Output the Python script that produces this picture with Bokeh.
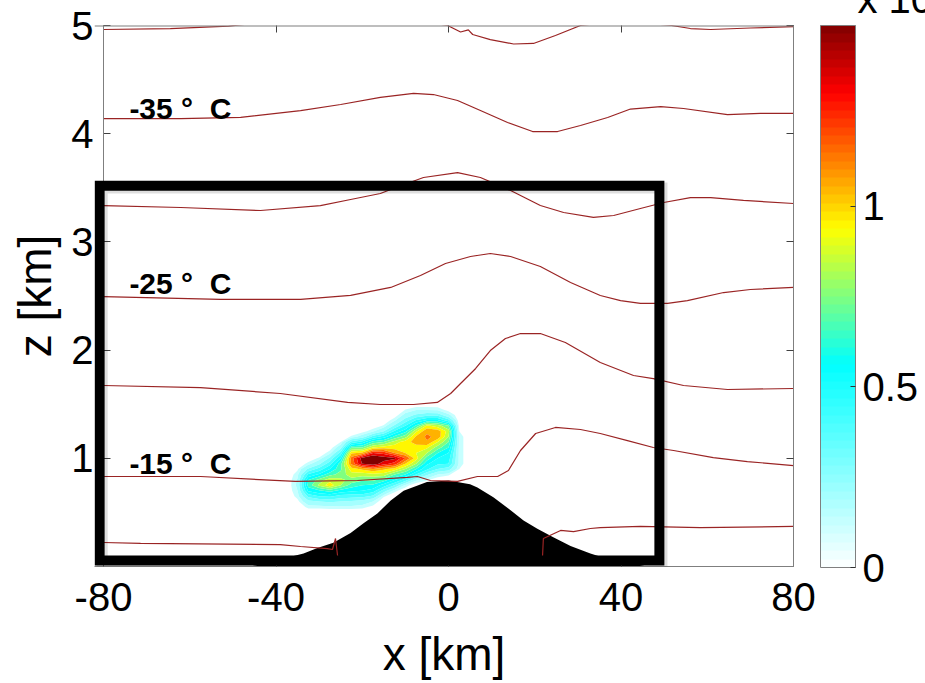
import numpy as np
from bokeh.plotting import figure
from bokeh.models import (Range1d, LinearAxis, FixedTicker, ColorBar, LinearColorMapper,
                          BoxAnnotation, Span, CustomJSTickFormatter)
from bokeh.core.properties import value
from bokeh.embed import file_html
from bokeh.resources import INLINE

# ---------------- data ----------------
x_min, x_max = -80, 80
z_min, z_max = 0, 5
x_ticks = [-80, -40, 0, 40, 80]
z_ticks = [1, 2, 3, 4, 5]
cbar_ticks = [0, 0.5, 1]
cbar_low, cbar_high = 0.0, 1.5
cbar_exponent_text = "x 10"

# terrain profile (km, km)
terrain_x = [-46, -40, -36.6, -33.6, -30.4, -26.7, -22.7, -19.7, -16.5, -13.4, -10.4, -5.0, 0.0,
             5.0, 6.7, 10.4, 14.4, 17.4, 20.6, 24.3, 28.3, 32.9, 36.0, 40.0, 46.0]
terrain_z = [0.0, 0.05, 0.09, 0.12, 0.17, 0.22, 0.31, 0.40, 0.49, 0.61, 0.70, 0.78, 0.795,
             0.76, 0.73, 0.64, 0.52, 0.425, 0.35, 0.27, 0.19, 0.12, 0.08, 0.05, 0.0]

# temperature isolines
iso_a_x = [-80, -64.5, -51, -35, -15, -0.2, 2.8, 4.6, 5.6, 9.7, 15.1, 19.7, 24.8, 30.6, 39.9,
           51.7, 56.1, 60.8, 70.0, 80]
iso_a_z = [4.963, 4.972, 4.995, 5.06, 5.10, 5.0, 4.94, 4.96, 4.917, 4.87, 4.829, 4.834, 4.908,
           5.0, 5.046, 5.0, 4.972, 4.963, 4.977, 4.99]
iso_b_x = [-80, -62.1, -48.2, -34.3, -25.0, -15.8, -8.1, -3.5, 2.1, 7.4, 13.7, 19.5, 25.3, 30.6,
           36.9, 42.2, 49.2, 54.5, 64.7, 72.3, 80]
iso_b_z = [4.140, 4.140, 4.150, 4.214, 4.270, 4.335, 4.372, 4.362, 4.307, 4.214, 4.104, 4.020,
           4.020, 4.076, 4.150, 4.228, 4.251, 4.233, 4.177, 4.187, 4.187]
iso_c_x = [-80, -62.1, -43.6, -29.7, -22.7, -15.8, -12.8, -5.8, 2.1, 7.4, 14.4, 21.3, 26.7, 33.6,
           38.3, 44.5, 49.9, 56.1, 60.8, 68.4, 80]
iso_c_z = [3.336, 3.318, 3.290, 3.336, 3.392, 3.447, 3.494, 3.595, 3.641, 3.595, 3.475, 3.336,
           3.272, 3.226, 3.244, 3.309, 3.364, 3.410, 3.410, 3.383, 3.355]
iso_d_x = [-80, -52.9, -34.3, -22.7, -13.4, -6.5, -0.7, 5.1, 9.7, 14.4, 21.3, 28.3, 35.2, 39.9,
           44.5, 50.8, 55.4, 63.8, 70.0, 80]
iso_d_z = [2.495, 2.468, 2.468, 2.505, 2.579, 2.689, 2.800, 2.865, 2.893, 2.865, 2.773, 2.625,
           2.505, 2.458, 2.431, 2.431, 2.458, 2.532, 2.560, 2.579]
iso_e_x = [-80, -57.5, -39.0, -23.4, -15.8, -8.1, -2.6, 0.5, 2.8, 6.3, 9.7, 13.2, 16.7, 21.3,
           27.1, 35.2, 42.9, 47.5, 54.5, 64.7, 80]
iso_e_z = [1.673, 1.654, 1.599, 1.516, 1.497, 1.497, 1.516, 1.599, 1.691, 1.830, 1.996, 2.107,
           2.153, 2.153, 2.070, 1.885, 1.765, 1.737, 1.673, 1.636, 1.645]
iso_f_x = [-80, -57.5, -35.5, -21.1, -9.5, -7.2, -4.2, 2.1, 6.7, 11.4, 13.9, 16.7, 20.2, 24.8,
           30.6, 35.2, 41.5, 47.5, 52.2, 61.4, 69.3, 80]
iso_f_z = [0.832, 0.832, 0.786, 0.795, 0.823, 0.832, 0.795, 0.786, 0.832, 0.832, 0.887, 1.072,
           1.229, 1.285, 1.266, 1.229, 1.164, 1.100, 1.072, 1.007, 0.970, 0.933]
iso_g1_x = [-80, -71.4, -39.0, -34.3, -28.1, -26.9, -26.2, -25.7]
iso_g1_z = [0.222, 0.213, 0.203, 0.185, 0.166, 0.157, 0.259, 0.092]
iso_g2_x = [21.8, 22.0, 26.0, 29.0, 32.9, 35.2, 44.5, 58.4, 80]
iso_g2_z = [0.092, 0.259, 0.333, 0.323, 0.351, 0.360, 0.370, 0.360, 0.370]

iso_label_text = ["-35 °\u00a0\u00a0C", "-25 °\u00a0\u00a0C", "-15 °\u00a0\u00a0C"]
iso_label_x = [-74.0, -74.0, -74.0]
iso_label_z = [4.233, 2.616, 0.952]

# gridded field (colour-filled blob): columns at field_x, each a profile over field_z
field_x = [-37.5, -35, -32.5, -30, -27.5, -25, -22.5, -20, -17.5, -15, -12.5, -10,
           -7.5, -5, -2.5, 0, 2.5, 5]
field_z = [0.50, 0.55, 0.60, 0.65, 0.70, 0.75, 0.80, 0.85, 0.90, 0.95, 1.00,
           1.05, 1.10, 1.15, 1.20, 1.25, 1.30, 1.35, 1.40, 1.45, 1.50]
field_columns = [
    [0]*21,
    [0, 0, .03, .07, .10, .12, .11, .08, .04, 0, 0, 0, 0, 0, 0, 0, 0, 0, 0, 0, 0],
    [0, .07, .17, .33, .52, .64, .60, .42, .22, .07, .01, 0, 0, 0, 0, 0, 0, 0, 0, 0, 0],
    [0, .07, .20, .40, .58, .82, .74, .52, .34, .18, .06, 0, 0, 0, 0, 0, 0, 0, 0, 0, 0],
    [0, .08, .22, .42, .64, .96, .86, .66, .50, .36, .22, .08, .01, 0, 0, 0, 0, 0, 0, 0, 0],
    [0, .08, .20, .36, .56, .80, .83, .74, .68, .66, .50, .34, .16, .05, 0, 0, 0, 0, 0, 0, 0],
    [0, .08, .18, .35, .52, .65, .76, .86, .96, 1.12, 1.15, .98, .68, .34, .06, 0, 0, 0, 0, 0, 0],
    [0, .07, .15, .34, .50, .60, .72, .84, 1.02, 1.41, 1.45, 1.02, .70, .44, .14, .02, 0, 0, 0, 0, 0],
    [0, .03, .10, .28, .45, .58, .72, .86, 1.10, 1.47, 1.50, 1.30, .90, .64, .34, .09, 0, 0, 0, 0, 0],
    [0, 0, 0, .06, .25, .45, .65, .85, 1.02, 1.34, 1.46, 1.26, .95, .70, .45, .20, .06, 0, 0, 0, 0],
    [0, 0, 0, 0, .07, .30, .50, .70, .95, 1.26, 1.42, 1.10, .95, .85, .62, .42, .22, .09, .01, 0, 0],
    [0, 0, 0, 0, 0, .08, .35, .60, .80, 1.00, 1.20, 1.00, .90, .95, .76, .56, .40, .25, .13, .05, 0],
    [0, 0, 0, 0, 0, 0, .12, .40, .60, .80, .95, .90, .95, 1.05, 1.02, .88, .62, .42, .22, .09, .01],
    [0, 0, 0, 0, 0, 0, .06, .22, .42, .52, .65, .80, .92, 1.09, 1.12, 1.08, .92, .52, .26, .09, .01],
    [0, 0, 0, 0, 0, 0, 0, .10, .30, .42, .50, .60, .75, .90, 1.07, 1.06, .85, .52, .26, .08, .01],
    [0, 0, 0, 0, 0, 0, 0, .06, .25, .40, .45, .50, .60, .70, .80, .85, .70, .35, .12, .02, 0],
    [0, 0, 0, 0, 0, 0, 0, 0, .05, .08, .08, .08, .08, .08, .08, .05, .02, 0, 0, 0, 0],
    [0]*21,
]
field_levels = [0.05, 0.1, 0.2, 0.3, 0.4, 0.5, 0.6, 0.7, 0.8, 0.9, 1.0, 1.1, 1.2, 1.3, 1.4, 1.6]

# box drawn over the panel (km, km)
box_left, box_right, box_bottom, box_top = -80.9, 48.9, 0.055, 3.52


# ---------------- colour map (white -> cyan, then jet) ----------------
def cmap(v):
    f = min(max((v - cbar_low) / (cbar_high - cbar_low), 0.0), 1.0)
    if f < 0.375:
        r, g, b = 1 - f / 0.375, 1.0, 1.0
    else:
        c = lambda t: min(max(t, 0.0), 1.0)
        r = c(min(4 * f - 1.5, -4 * f + 4.5))
        g = c(min(4 * f - 0.5, -4 * f + 3.5))
        b = c(min(4 * f + 0.5, -4 * f + 2.5))
    return "#%02x%02x%02x" % (round(r * 255), round(g * 255), round(b * 255))


palette64 = [cmap(cbar_low + (i + 0.5) / 64 * (cbar_high - cbar_low)) for i in range(64)]
band_colors = []
for a, b in zip(field_levels[:-1], field_levels[1:]):
    mid = 0.5 * (a + b)
    band_colors.append(cmap(mid + 0.05 if mid < 0.5 else mid))
band_colors[-1] = cmap(1.5)

FONT = "Liberation Sans"
W, H = 925, 683
AXIS_L, FRAME_R, FRAME_T, FRAME_B = 103, 793, 25, 566
kx = (FRAME_R - AXIS_L) / (x_max - x_min)   # px per km (horizontal)
# the drawing area starts a few pixels left of x = -80 so the thick box can overhang it
PAD_L = 9
FRAME_L = AXIS_L - PAD_L
x_lo = x_min - PAD_L / kx

p = figure(width=W, height=H, x_range=Range1d(x_lo, x_max), y_range=Range1d(z_min, z_max),
           output_backend="svg", toolbar_location=None,
           min_border_left=FRAME_L, min_border_right=W - FRAME_R,
           min_border_top=FRAME_T, min_border_bottom=H - FRAME_B,
           background_fill_color="white", border_fill_color="white",
           outline_line_color=None)
p.grid.visible = False

plain = CustomJSTickFormatter(code="return tick.toString();")
for ax, ticks in ((p.xaxis[0], x_ticks), (p.yaxis[0], z_ticks)):
    ax.ticker = FixedTicker(ticks=ticks, minor_ticks=[])
    ax.formatter = plain
    ax.major_tick_in = 7
    ax.major_tick_out = 0
    ax.minor_tick_in = 0
    ax.minor_tick_out = 0
    ax.axis_line_color = "#7f7f7f"
    ax.major_tick_line_color = "#404040"
    ax.major_label_text_font = FONT
    ax.major_label_text_font_size = "40px"
    ax.major_label_text_color = "black"
    ax.axis_label_text_font = FONT
    ax.axis_label_text_font_size = "46px"
    ax.axis_label_text_font_style = "normal"
    ax.axis_label_text_color = "black"

p.xaxis.axis_label = "x [km]"
p.xaxis.major_label_standoff = 16
p.xaxis.axis_label_standoff = 14
p.yaxis.axis_label = "z [km]"
p.yaxis.axis_line_color = None
# ticks start at x = -80 (PAD_L px inside the drawing area)
p.yaxis.major_tick_out = -PAD_L
p.yaxis.major_tick_in = PAD_L + 7
p.yaxis.major_label_standoff = 1
p.yaxis.axis_label_standoff = 7

blank = CustomJSTickFormatter(code="return '';")
top_axis = LinearAxis(ticker=FixedTicker(ticks=x_ticks, minor_ticks=[]), formatter=blank,
                      major_label_standoff=0,
                      major_tick_in=7, major_tick_out=0, minor_tick_in=0, minor_tick_out=0,
                      axis_line_color=None, major_tick_line_color="#404040")
p.add_layout(top_axis, "above")
right_axis = LinearAxis(ticker=FixedTicker(ticks=z_ticks, minor_ticks=[]), formatter=blank,
                        major_label_standoff=0,
                        major_tick_in=7, major_tick_out=0, minor_tick_in=0, minor_tick_out=0,
                        axis_line_color="#7f7f7f", major_tick_line_color="#404040")
p.add_layout(right_axis, "right")

# axes box edges at x = -80 and z = 5
p.add_layout(Span(location=x_min, dimension="height", line_color="#7f7f7f", line_width=1))
p.add_layout(Span(location=z_max, dimension="width", line_color="#7f7f7f", line_width=2))

# filled field
field = np.array(field_columns, dtype=float).T
p.contour(x=field_x, y=field_z, z=field, levels=field_levels,
          fill_color=band_colors, line_color=None)

# terrain
p.varea(x=terrain_x, y1=0, y2=terrain_z, fill_color="black")

# isolines
iso_color = "#9a2424"
for xs, zs in ((iso_a_x, iso_a_z), (iso_b_x, iso_b_z), (iso_c_x, iso_c_z), (iso_d_x, iso_d_z),
               (iso_e_x, iso_e_z), (iso_f_x, iso_f_z), (iso_g1_x, iso_g1_z), (iso_g2_x, iso_g2_z)):
    p.line(xs, zs, line_color=iso_color, line_width=1.2)

p.text(x=iso_label_x, y=iso_label_z, text=iso_label_text, text_font=value(FONT),
       text_font_style="bold", text_font_size="30px", text_baseline="alphabetic",
       text_align="left", text_color="black")

# thick box with a faint shadow
p.add_layout(BoxAnnotation(left=box_left + 0.6, right=box_right + 0.6,
                           bottom=box_bottom - 0.022, top=box_top - 0.022,
                           fill_alpha=0, line_color="black", line_alpha=0.13, line_width=11,
                           line_join="miter"))
p.add_layout(BoxAnnotation(left=box_left, right=box_right, bottom=box_bottom, top=box_top,
                           fill_alpha=0, line_color="black", line_alpha=1.0, line_width=10,
                           line_join="miter"))

# colour bar (placed beside the frame)
mapper = LinearColorMapper(palette=palette64, low=cbar_low, high=cbar_high)
cb = ColorBar(color_mapper=mapper, ticker=FixedTicker(ticks=cbar_ticks, minor_ticks=[]),
              formatter=plain,
              width=35, height=FRAME_B - FRAME_T + 1, margin=0, padding=0, label_standoff=7,
              location=(820 - FRAME_L, -1),
              major_label_text_font=FONT, major_label_text_font_size="40px",
              major_label_text_color="black",
              major_tick_in=5, major_tick_out=0, major_tick_line_color="#303030",
              minor_tick_line_color=None,
              bar_line_color="#7f7f7f", border_line_color=None,
              background_fill_alpha=0)
p.add_layout(cb)

# exponent text above the colour bar, cut by the top edge as in the picture
# (carried as the title of an invisible horizontal scale so it is not clipped to the frame)
exp_holder = ColorBar(color_mapper=mapper, orientation="horizontal",
                      ticker=FixedTicker(ticks=[], minor_ticks=[]),
                      width=60, height=1, margin=0, padding=0, scale_alpha=0,
                      location=(857 - FRAME_L, FRAME_B - FRAME_T),
                      bar_line_color=None, border_line_color=None,
                      background_fill_alpha=0, major_tick_line_color=None,
                      title=cbar_exponent_text, title_standoff=8,
                      title_text_font=FONT, title_text_font_size="40px",
                      title_text_font_style="normal", title_text_color="black",
                      title_text_baseline="alphabetic")
p.add_layout(exp_holder)

open("out.html", "w").write(file_html(p, INLINE))
